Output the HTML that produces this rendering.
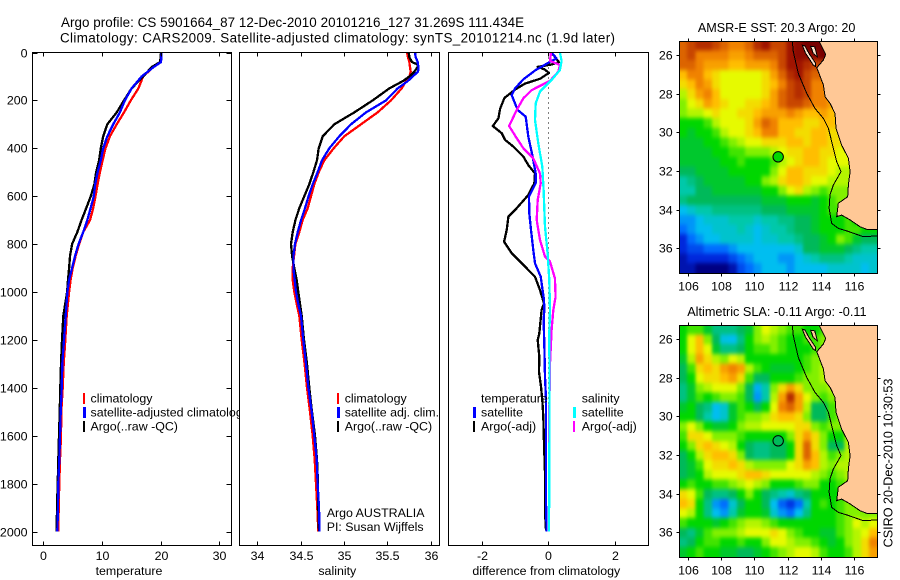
<!DOCTYPE html>
<html lang="en">
<head>
<meta charset="utf-8">
<title>Argo profile</title>
<style>
html,body{margin:0;padding:0;background:#fff;}
svg{display:block;}
text{font-family:"Liberation Sans",sans-serif;font-size:12.4px;fill:#000;}
</style>
</head>
<body>
<svg id="chart" xmlns="http://www.w3.org/2000/svg" width="900" height="580" viewBox="0 0 900 580">
<defs>
<filter id="soften" x="-5%" y="-5%" width="110%" height="110%" color-interpolation-filters="sRGB"><feGaussianBlur stdDeviation="1.7 2"/></filter>
<clipPath id="clip-m1"><rect x="679.5" y="41.5" width="198" height="232"/></clipPath>
<clipPath id="clip-m2"><rect x="679.5" y="325.5" width="198" height="232"/></clipPath>
</defs>
<rect x="0" y="0" width="900" height="580" fill="#fff"/>
<g id="p1"></g>

<g>
<text x="90.5" y="402.3">climatology</text>
<text x="90.5" y="416.3">satellite-adjusted climatology</text>
<text x="90.5" y="430.3">Argo(..raw -QC)</text>
<rect x="83" y="393" width="2" height="11" fill="#f00"/>
<rect x="83" y="407" width="3" height="11" fill="#00f"/>
<rect x="83" y="421" width="2" height="11" fill="#000"/>
</g>

<g id="p2"></g>
<g id="p3"></g>
<g id="m1"></g>
<g id="m2"></g>

<text x="61" y="27" textLength="463" lengthAdjust="spacing" style="font-size:13.4px">Argo profile: CS 5901664_87 12-Dec-2010 20101216_127 31.269S 111.434E</text>
<text x="60" y="42.5" textLength="555" lengthAdjust="spacing" style="font-size:13.4px">Climatology: CARS2009. Satellite-adjusted climatology: synTS_20101214.nc (1.9d later)</text>

<text x="129" y="575" text-anchor="middle">temperature</text>
<text x="337.3" y="575" text-anchor="middle">salinity</text>
<text x="546.3" y="575" text-anchor="middle">difference from climatology</text>

<text x="776.6" y="32" text-anchor="middle" style="font-size:12.6px">AMSR-E SST: 20.3 Argo: 20</text>
<text x="776.9" y="316" text-anchor="middle" style="font-size:12.7px">Altimetric SLA: -0.11 Argo: -0.11</text>
<text transform="translate(892.5,463) rotate(-90)" text-anchor="middle" style="font-size:12.6px">CSIRO 20-Dec-2010 10:30:53</text>
</svg>

<script>
// ---------- profile data ----------
const tempDepths = [0,40,60,100,150,200,250,300,350,400,450,500,550,600,650,700,750,800,850,900,950,1000,1100,1200,1300,1400,1500,1600,1700,1800,1900,2000];
const tempClim = [20.05,19.9,18.75,17,16.2,14.9,13.75,12.5,11.35,10.6,10.1,9.65,9.25,8.9,8.5,7.95,6.8,6.1,5.5,5,4.65,4.4,3.98,3.75,3.47,3.3,3.07,3.02,2.84,2.73,2.62,2.56];
const tempSat = [20.15,20.05,18.85,16.75,15.05,13.9,13.05,11.9,10.9,10.2,9.8,9.25,8.85,8.6,8.05,7.5,6.8,6,5.4,4.9,4.4,4.1,3.81,3.53,3.24,3.13,2.96,2.84,2.73,2.56,2.5,2.39];
const tempArgo = [20.05,19.9,18.5,17,15.05,13.75,12.5,10.9,10.2,9.8,9.5,9,8.7,8.1,7.3,6.5,5.8,4.9,4.55,4.4,4.2,4.05,3.41,3.19,3.02,2.9,2.79,2.68,2.56,2.45,2.33,2.28];

const salDepths = [0,20,40,50,60,80,100,120,150,200,250,300,350,400,450,500,550,600,650,700,750,800,850,900,950,1000,1050,1100,1200,1300,1400,1500,1600,1700,1800,1900,2000];
const salClim = [35.727,35.738,35.754,35.757,35.761,35.769,35.754,35.715,35.665,35.542,35.388,35.196,35.004,34.881,34.773,34.708,34.658,34.619,34.581,34.523,34.485,34.439,34.423,34.408,34.408,34.427,34.454,34.485,34.512,34.546,34.573,34.608,34.639,34.662,34.677,34.692,34.704];
const salSat = [35.819,35.827,35.85,35.854,35.861,35.854,35.792,35.734,35.619,35.485,35.254,35.081,34.946,34.831,34.746,34.696,34.639,34.592,34.55,34.504,34.466,34.435,34.416,34.416,34.431,34.446,34.473,34.504,34.531,34.562,34.589,34.627,34.658,34.685,34.696,34.712,34.719];
const salArgo = [35.746,35.754,35.784,35.85,35.85,35.811,35.754,35.677,35.523,35.331,35.119,34.888,34.754,34.708,34.689,34.646,34.6,34.542,34.485,34.439,34.408,34.389,34.401,34.427,34.454,34.473,34.492,34.512,34.539,34.573,34.6,34.631,34.666,34.689,34.7,34.704,34.712];

const diffTempArgoDepths = [0,10,40,50,60,70,85,110,130,155,190,235,275,307,337,365,393,435,470,505,546,595,658,685,741,790,838,894,936,992,1047,1075,1173,1200,1270,1333,1395,1451,1520,1632,1757,1883,1980,2000];
const diffTempArgo = [0.08,0.15,0.32,0.1,-0.32,-0.12,0.02,-0.25,-0.7,-1,-1.32,-1.45,-1.5,-1.67,-1.4,-1.3,-1.05,-0.75,-0.6,-0.4,-0.42,-0.6,-1,-1.2,-1.25,-1.33,-1.1,-0.7,-0.4,-0.25,-0.13,-0.2,-0.27,-0.32,-0.27,-0.28,-0.22,-0.18,-0.15,-0.13,-0.1,-0.1,-0.08,-0.05];
const diffTempSatDepths = [0,25,35,75,112,150,178,240,268,351,428,505,546,602,671,741,825,880,936,1033,1075,1117,1215,1353,1451,1590,1757,1869,2000];
const diffTempSat = [0.1,0.25,0.1,-0.4,-0.75,-1,-1.1,-0.92,-0.68,-0.6,-0.48,-0.38,-0.38,-0.58,-0.57,-0.52,-0.45,-0.4,-0.23,-0.13,-0.12,-0.14,-0.12,-0.1,-0.07,-0.07,-0.07,-0.07,-0.05];
const diffSalSatDepths = [0,35,73,115,163,212,282,379,477,574,727,838,950,1075,1173,1451,1730,2000];
const diffSalSat = [0.35,0.4,0.35,0.1,-0.25,-0.38,-0.4,-0.3,-0.18,-0.14,-0.1,-0.02,0.03,0.05,0.03,0.04,0.03,0.02];
const diffSalArgoDepths = [0,35,52,80,118,157,191,240,307,358,400,442,505,546,616,699,783,852,873,943,1020,1075,1159,1300,1500,1800,1950];
const diffSalArgo = [0.08,0.05,0.35,0.3,0.05,-0.5,-0.75,-0.95,-1.18,-0.95,-0.75,-0.45,-0.25,-0.23,-0.32,-0.35,-0.25,-0.1,0.05,0.2,0.22,0.15,0.1,0.05,0.03,0.02,0.02];

// ---------- axis tick labels ----------
const depthTicks = [0,200,400,600,800,1000,1200,1400,1600,1800,2000];
const tempTicks = [0,10,20,30];
const salTicks = [34,34.5,35,35.5,36];
const diffTicks = [-2,0,2];
const lonTicks = [106,108,110,112,114,116];
const latTicksSst = [26,28,30,32,34,36];
const latTicksSla = [26,28,30,32,34,36];

// ---------- map data (hand-read colour levels, 0.5 degree cells, north to south, west to east) ----------
const sstGrid = [
[10.5,11,11.5,11.5,11,10.5,10,10,10.5,11.5,12,11,11,12,12.5,13,13,13],
[10.5,11,10,10,10,10,9.5,9.5,10,10.5,10.5,10.5,11,12,12.5,12.5,12.5,13],
[10.5,10.5,10,9.5,9.5,9.5,9,9,9.5,9.5,9.5,10,11,12,12,11.5,11,11],
[9,10,10,9,8.5,8,8,8,8,8,8.5,9.5,10.5,11.5,12,11,10.5,10.5],
[8.5,9,10,9.5,8.5,8,8,8,8,8,8.5,9,10,11,11.5,11,10,10],
[7.5,8.5,9.5,10,9,8,8,8,8,8,8.5,9.5,10.5,11,11.5,11,10,10,9.5],
[7,8,8.5,9.5,9,8.5,8,8,8.5,8.5,9,9.5,10.5,11,11,10.5,10,10,9.5],
[7,7.5,7.5,8,8.5,8,8,8.5,8.5,9,9.5,9.5,9.5,10,9.5,9,9,9.5,9,8.5],
[6,6,6,6.5,7.5,8,8,8,8.5,9.5,10.5,10,9,9,9,8.5,8.5,9,9,8.5,8],
[6,5.5,6,6,6.5,7.5,8,8,8.5,9,10,10,9,9,8.5,8.5,9,9,8.5,8.5,8],
[5.5,5.5,5.5,6,6,6.5,7,7.5,8,8,8.5,8.5,8.5,9,9,8.5,9,9,8.5,8.5,8],
[5.5,5.5,5.5,5.5,6,6,6.5,6.5,7,7,7,7.5,8,8.5,8.5,9,9,8.5,8.5,8,8,8],
[5.5,5.5,5.5,5.5,5.5,6,6,6.5,6,6,6,6.5,7.5,8,8.5,9,9,8.5,8,8,8,8],
[5,5,5.5,5.5,5.5,5.5,6,6,6,6,6,7,8,9,9,8.5,8.5,8.5,8,7.5,7.5,7.5],
[4,4.5,5,5.5,5.5,5.5,5.5,5.5,6,6,7,7.5,8.5,9,9,8.5,8,8,7.5,7.5,7.5,7.5],
[4,4,5,5,5.5,5.5,5.5,5.5,5.5,5.5,6,6,7,8,8.5,7.5,7,6.5,7,7,7,7],
[4.5,5,5,5,5,5,5,5,5,5,5.5,5.5,5.5,6,6,6,5.5,6,6.5,7,7,7],
[3,3.5,4,4,4.5,4.5,4.5,4.5,4.5,4.5,5,5,5,5.5,5.5,5.5,5.5,6,6.5,6.5,6.5,6.5],
[2.5,2.5,3,3.5,3.5,3.5,4,4,4,3.5,4,4,4.5,4.5,5,5,5.5,6,6,6,6.5,6,6,6],
[2,2.5,3,3,3.5,3.5,3.5,4,3.5,3,3.5,4,4,4.5,5,5,5.5,6,6,6,6.5,6.5,6,6],
[1,2,2.5,3,3,3.5,3.5,3.5,3.5,3,3.5,3.5,4,4,4.5,5,5,5.5,6,7,6.5,5.5,5,5],
[1,1.5,1.5,2,2,2,2.5,3,3,3,3,3,3,3,3.5,5,5,5.5,5.5,5.5,5,4.5,4,4],
[0.5,1,1,1,1,1,1.5,2,2.5,3,3,3,2.5,2.5,3,3.5,4,4.5,4.5,4.5,4,3.5,3.5,3.5],
[0.5,0.5,0,0,0,0,0.5,1.5,2,2.5,3,3,3,2.5,3,3,3,3,3.5,3.5,3.5,3.5,3,3.5]
];
const slaGrid = [
[6,6.5,6.5,5.5,4.5,4.5,4.5,5,5.5,7,8,7.5,7,6.5,6.5,6,6,6.5],
[6,8,9,7,5,3.2,3,4.5,6,7,7.5,7,6.5,6,6,6.5,6.5,7],
[6,8,9,8,5.5,4.5,4.5,5,6,6.5,6.5,7,6.5,6,6,6,6.5,7],
[5.5,7.5,9.5,8.5,7.5,7,8,7.5,6,6,6,6,6,6,6,6.5,7,7],
[5,6.5,8.5,9,8.5,9.5,10,9.5,7.5,6.5,6,5.5,5.5,5.5,6,6.5,7,7.5],
[5,6,8,8.5,8.5,9,9.5,8.5,6.5,5,5,6,6,6,6.5,7,7,7.5,7.5],
[4.5,5.5,7,7.5,8,8,8,7,5,2.8,4,7,8.5,9.5,8.5,7,7,7,7.5,7.5],
[4.5,5.5,6.5,6,6.5,7,7,6.5,5,2.5,4,7.5,9.5,11.5,9.5,8,7,6.5,7,7.5],
[5.5,6,5,4.5,3,3.5,5.5,6.5,6,5,6,8,10,10.5,9.5,7.5,5,5,6.5,7,7.5],
[6,6,5,4,3,3.5,5.5,6.5,7,7,7.5,8.5,9,9,8.5,7,5,5,6.5,7,7.5],
[7,8,7,6,5.5,5.5,6,7,7.5,7.5,8,8,8,8,8.5,8.5,7,6.5,7,7,7,7.5],
[6.5,8.5,8.5,8,7,7,7,6.5,6,6,6,6,6,7,8.5,9.5,8.5,7,6,6,7.5,7.5],
[6,7,8.5,9,8.5,8,7.5,6,5,4.5,4.5,5,5,6,8.5,10.5,8.5,7,5,5,7.5,8],
[5,6,7.5,8.5,9,9,8.5,7,5,4.5,4.5,5,5,6,8.5,10.5,9,7.5,6.5,7,7.5,8],
[5,5.5,6.5,8,8.5,8.5,9,8.5,7.5,7,7,7,7,8,8.5,9.5,9,7.5,7,7.5,7.5,8],
[5,5.5,6,7.5,8,8,8,8.5,9,9,8.5,8,8,8,8,8,7.5,7,6.5,7,7.5,7.5],
[6,6.5,6,6,6.5,6.5,7,7.5,8,7.5,7,6,6,6,6.5,7,7,6,6,6.5,7,7],
[8.5,8,6.5,5,4.5,4.5,5,6,7,6,5,4.5,4,3.5,4.5,5,6,6,6,6,7,7],
[9,8.5,6,4.5,2.5,2,3.5,5,6,6,5,3,1.8,1.2,2,4,6,6.5,6,6.5,7,7],
[8,7.5,6,4.5,3,2.5,4,5.5,6,6,5.5,3.5,2.5,2,3,4.5,6,6,6,6.5,7,7,7,7],
[6.5,6,6,6,5.5,6,6.5,7,7.5,7.5,7,6.5,6,6,6,6,6,6,6,6.5,7,8,7.5,8],
[5,4.5,5.5,6.5,7,7,7,7.5,8,8,8,8.5,8,7,6.5,6,6,5.5,5.5,6.5,7,7.5,8,9],
[4.5,5,6,6.5,6.5,6,6,6.5,6,6,7,8,8,7.5,7,7,6.5,6,5.5,6,7,7.5,8.5,10],
[5.5,6,6.5,6,6,5.5,5.5,5,5,5.5,6,6.5,7,7.5,8,8,7.5,6.5,6,6,6.5,7.5,8.5,9.5]
];
const sstArgoLevel = 6;
const slaArgoLevel = 5;
const argoLon = 111.434;
const argoLat = 31.269;

// geographic outlines in degrees (lon, south-latitude)
const coastLon = [113.92,114.31,114.17,113.76,113.86,114.17,114.27,114.57,114.87,114.93,115.27,115.68,115.78,115.68,115.64,115.07,114.97,115.27,115.78,116.38,116.79,117.43,117.43];
const coastLat = [25.27,25.97,26.26,26.66,26.86,27.55,28.16,28.5,29.02,29.79,30.66,31.34,32.03,32.72,33.33,33.67,34.36,34.28,34.53,34.88,35.02,35.02,25.27];
const isobathLon = [112.29,112.35,112.65,113.16,113.66,114.17,114.47,114.67,114.97,115.23,114.77,114.57,114.51,114.67,115.07,115.58,116.58,117.43];
const isobathLat = [25.27,25.83,26.95,27.98,28.76,29.28,29.79,30.48,31.52,32.03,32.72,33.24,33.93,34.71,34.97,35.1,35.4,35.36];
const islandLon = [112.9,113.1,113.3,113.55,113.7,113.7,113.3,113.05,112.9];
const islandLat = [25.5,25.92,26.17,26.52,26.6,26.43,25.92,25.53,25.5];
const peninsulaLon = [113.4,113.55,113.8,113.65,113.4];
const peninsulaLat = [25.55,25.92,26.09,25.58,25.55];

// ---------- colour scale stops for map levels ----------
const cmapStops = [[0,0,130],[0,40,220],[0,110,255],[0,190,240],[0,200,170],[0,185,90],[0,215,0],[130,240,0],[230,250,0],[255,190,0],[240,130,0],[200,70,0],[160,20,0],[120,0,0]];
function levelColor(v){
  const t = Math.max(0, Math.min(cmapStops.length - 1.001, v));
  const i = Math.floor(t), f = t - i;
  const c = [0,1,2].map(k => Math.round(cmapStops[i][k] + (cmapStops[i+1][k] - cmapStops[i][k]) * f));
  return 'rgb(' + c.join(',') + ')';
}

const NS = 'http://www.w3.org/2000/svg';
function mk(parent, tag, attrs, txt){
  const el = document.createElementNS(NS, tag);
  for (const k in attrs) el.setAttribute(k, attrs[k]);
  if (txt !== undefined) el.textContent = txt;
  parent.appendChild(el);
  return el;
}
function frame(parent, x0, y0, x1, y1){
  const el = mk(parent, 'rect', {x:x0, y:y0, width:x1-x0, height:y1-y0, fill:'none', stroke:'#000', 'stroke-width':1, 'shape-rendering':'crispEdges'});
  
  
}
function tick(parent, x1, y1, x2, y2){
  const el = mk(parent, 'line', {x1:x1, y1:y1, x2:x2, y2:y2, stroke:'#000', 'stroke-width':1, 'shape-rendering':'crispEdges'});
  
  
}
function tickLabel(parent, x, y, anchor, s){
  const el = mk(parent, 'text', {x:x, y:y, 'text-anchor':anchor}, s);
  
  
}
function series(parent, xs, ys, sx, sy, color, w, name){
  const pts = xs.map((v, i) => sx(v).toFixed(1) + ',' + sy(ys[i]).toFixed(1)).join(' ');
  const el = mk(parent, 'polyline', {points:pts, fill:'none', stroke:color, 'stroke-width':w, 'shape-rendering':'crispEdges', 'stroke-linejoin':'round'});
  
  
}

// ---------- axis functions ----------
const depthY = d => 52.5 + d * 0.2395;
const tempX = t => 43.3 + t * 5.87;
const salX = s => 257.3 + (s - 34) * 86.7;
const diffX = v => 548.3 + v * 33.25;
const lonX = lon => 688.3 + (lon - 106) * 16.54;
const latY1 = lat => 55 + (lat - 26) * 19.33;
const latY2 = lat => 339 + (lat - 26) * 19.33;

const PT = 52.5, PB = 545.5, LW = 2.3;

// temperature panel
const p1 = document.getElementById('p1');
series(p1, tempClim, tempDepths, tempX, depthY, '#f00', LW, 'temperature-climatology-line');
series(p1, tempArgo, tempDepths, tempX, depthY, '#000', LW, 'temperature-argo-line');
series(p1, tempSat, tempDepths, tempX, depthY, '#00f', LW, 'temperature-satellite-line');
frame(p1, 32.5, PT, 231.5, PB);
depthTicks.forEach(d => {
  const y = Math.round(depthY(d)) + 0.5;
  tick(p1, 32.5, y, 37.5, y);
  tick(p1, 226.5, y, 231.5, y);
  tickLabel(p1, 27.5, y + 4, 'end', String(d));
});
tempTicks.forEach(t => {
  const x = Math.round(tempX(t)) + 0.5;
  tick(p1, x, PT, x, PT + 4);
  tick(p1, x, PB - 4, x, PB);
  tickLabel(p1, x, 560, 'middle', String(t));
});

// salinity panel (background hides overflowing legend text)
const p2 = document.getElementById('p2');
const p2bg = mk(p2, 'rect', {x:239.5, y:PT, width:200, height:PB-PT, fill:'#fff'});


series(p2, salClim, salDepths, salX, depthY, '#f00', LW, 'salinity-climatology-line');
series(p2, salArgo, salDepths, salX, depthY, '#000', LW, 'salinity-argo-line');
series(p2, salSat, salDepths, salX, depthY, '#00f', LW, 'salinity-satellite-line');
frame(p2, 239.5, PT, 439.5, PB);
salTicks.forEach(s => {
  const x = Math.round(salX(s)) + 0.5;
  tick(p2, x, PT, x, PT + 4);
  tick(p2, x, PB - 4, x, PB);
  tickLabel(p2, x, 560, 'middle', String(s));
});
[['climatology', '#f00', 2, 402.3, 393], ['satellite adj. clim.', '#00f', 3, 416.3, 407], ['Argo(..raw -QC)', '#000', 2, 430.3, 421]].forEach(r => {
  tickLabel(p2, 344.7, r[3], 'start', r[0]);
  const sw = mk(p2, 'rect', {x:337, y:r[4], width:r[2], height:11, fill:r[1]});
  
  
});
tickLabel(p2, 326.7, 517, 'start', 'Argo AUSTRALIA');
tickLabel(p2, 326.7, 531, 'start', 'PI: Susan Wijffels');

// difference panel
const p3 = document.getElementById('p3');
const zero = mk(p3, 'line', {x1:548.5, y1:PT, x2:548.5, y2:depthY(2000), stroke:'#000', 'stroke-width':1, 'stroke-dasharray':'1 4', 'shape-rendering':'crispEdges'});


series(p3, diffTempArgo, diffTempArgoDepths, diffX, depthY, '#000', LW, 'difference-temperature-argo-line');
series(p3, diffTempSat, diffTempSatDepths, diffX, depthY, '#00f', LW, 'difference-temperature-satellite-line');
series(p3, diffSalArgo, diffSalArgoDepths, diffX, depthY, '#f0f', LW, 'difference-salinity-argo-line');
series(p3, diffSalSat, diffSalSatDepths, diffX, depthY, '#0ff', LW, 'difference-salinity-satellite-line');
frame(p3, 448.5, PT, 648.5, PB);
diffTicks.forEach(v => {
  const x = Math.round(diffX(v)) + 0.5;
  tick(p3, x, PT, x, PT + 4);
  tick(p3, x, PB - 4, x, PB);
  tickLabel(p3, x, 560, 'middle', String(v));
});
[['temperature', 481, 402.3], ['satellite', 481, 416.3], ['Argo(-adj)', 481, 430.3], ['salinity', 581.7, 402.3], ['satellite', 581.7, 416.3], ['Argo(-adj)', 581.7, 430.3]].forEach(r => {
  tickLabel(p3, r[1], r[2], 'start', r[0]);
});
[[473, 407, '#00f', 3], [473, 421, '#000', 2], [573, 407, '#0ff', 3], [573, 421, '#f0f', 2]].forEach(r => {
  const sw = mk(p3, 'rect', {x:r[0], y:r[1], width:r[3], height:11, fill:r[2]});
  
  
});

// maps: one rect per grid value; outer cells overrun the frame so the soft filter has no fading edge
function drawMap(id, grid, latY, latTicks, argoLevel, islandFill, prefix){
  const g = document.getElementById(id);
  const left = 105.43, top = 25.27, step = 0.5, pad = 12;
  const x0 = 679.5, x1 = 877.5, y0 = Math.round(latY(top)) + 0.5, y1 = Math.round(latY(37.27)) + 0.5;
  const clip = mk(g, 'g', {'clip-path':'url(#clip-' + id + ')'});
  
  
  const field = mk(clip, 'g', {filter:'url(#soften)'});
  
  
  grid.forEach((row, j) => {
    for (let i = 0; i < 24; i++) {
      const v = row[Math.min(i, row.length - 1)];
      const xa = lonX(left + i * step) - (i === 0 ? pad : 0), xb = lonX(left + (i + 1) * step) + (i === 23 ? pad : 0);
      const ya = latY(top + j * step) - (j === 0 ? pad : 0), yb = latY(top + (j + 1) * step) + (j === grid.length - 1 ? pad : 0);
      const c = mk(field, 'rect', {x:xa.toFixed(1), y:ya.toFixed(1), width:(xb - xa + 0.4).toFixed(1), height:(yb - ya + 0.4).toFixed(1), fill:levelColor(v), 'shape-rendering':'crispEdges'});
      
      
    }
  });
  const pts = (lons, lats) => lons.map((l, i) => Math.min(x1, lonX(l)).toFixed(1) + ',' + Math.max(y0, latY(lats[i])).toFixed(1)).join(' ');
  const land = mk(g, 'polygon', {points:pts(coastLon, coastLat), fill:'#ffc896', stroke:'none', 'shape-rendering':'crispEdges'});
  
  
  const coast = mk(g, 'polyline', {points:pts(coastLon.slice(0, -1), coastLat.slice(0, -1)), fill:'none', stroke:'#000', 'stroke-width':1, 'shape-rendering':'crispEdges'});
  
  
  const isl = mk(g, 'polygon', {points:pts(islandLon, islandLat), fill:islandFill, stroke:'#000', 'stroke-width':1, 'shape-rendering':'crispEdges'});
  
  
  const pen = mk(g, 'polygon', {points:pts(peninsulaLon, peninsulaLat), fill:islandFill, stroke:'#000', 'stroke-width':1, 'shape-rendering':'crispEdges'});
  
  
  const iso = mk(g, 'polyline', {points:pts(isobathLon, isobathLat), fill:'none', stroke:'#000', 'stroke-width':1, 'shape-rendering':'crispEdges'});
  
  
  const dot = mk(g, 'circle', {cx:lonX(argoLon), cy:latY(argoLat), r:5.2, fill:levelColor(argoLevel), stroke:'#000', 'stroke-width':1});
  
  
  frame(g, x0, y0, x1, y1);
  latTicks.forEach(l => {
    const y = Math.round(latY(l)) + 0.5;
    tick(g, x0 - 3, y, x0, y);
    tick(g, x1, y, x1 + 3, y);
    tickLabel(g, 672.7, y + 4.2, 'end', String(l));
  });
  lonTicks.forEach(l => {
    const x = Math.round(lonX(l)) + 0.5;
    tick(g, x, y0 - 3, x, y0);
    tick(g, x, y1, x, y1 + 3);
    tickLabel(g, x, y1 + 17, 'middle', String(l));
  });
}
drawMap('m1', sstGrid, latY1, latTicksSst, sstArgoLevel, '#ffe0c8', 'sst');
drawMap('m2', slaGrid, latY2, latTicksSla, slaArgoLevel, '#ffc896', 'sla');
</script>
</body>
</html>
